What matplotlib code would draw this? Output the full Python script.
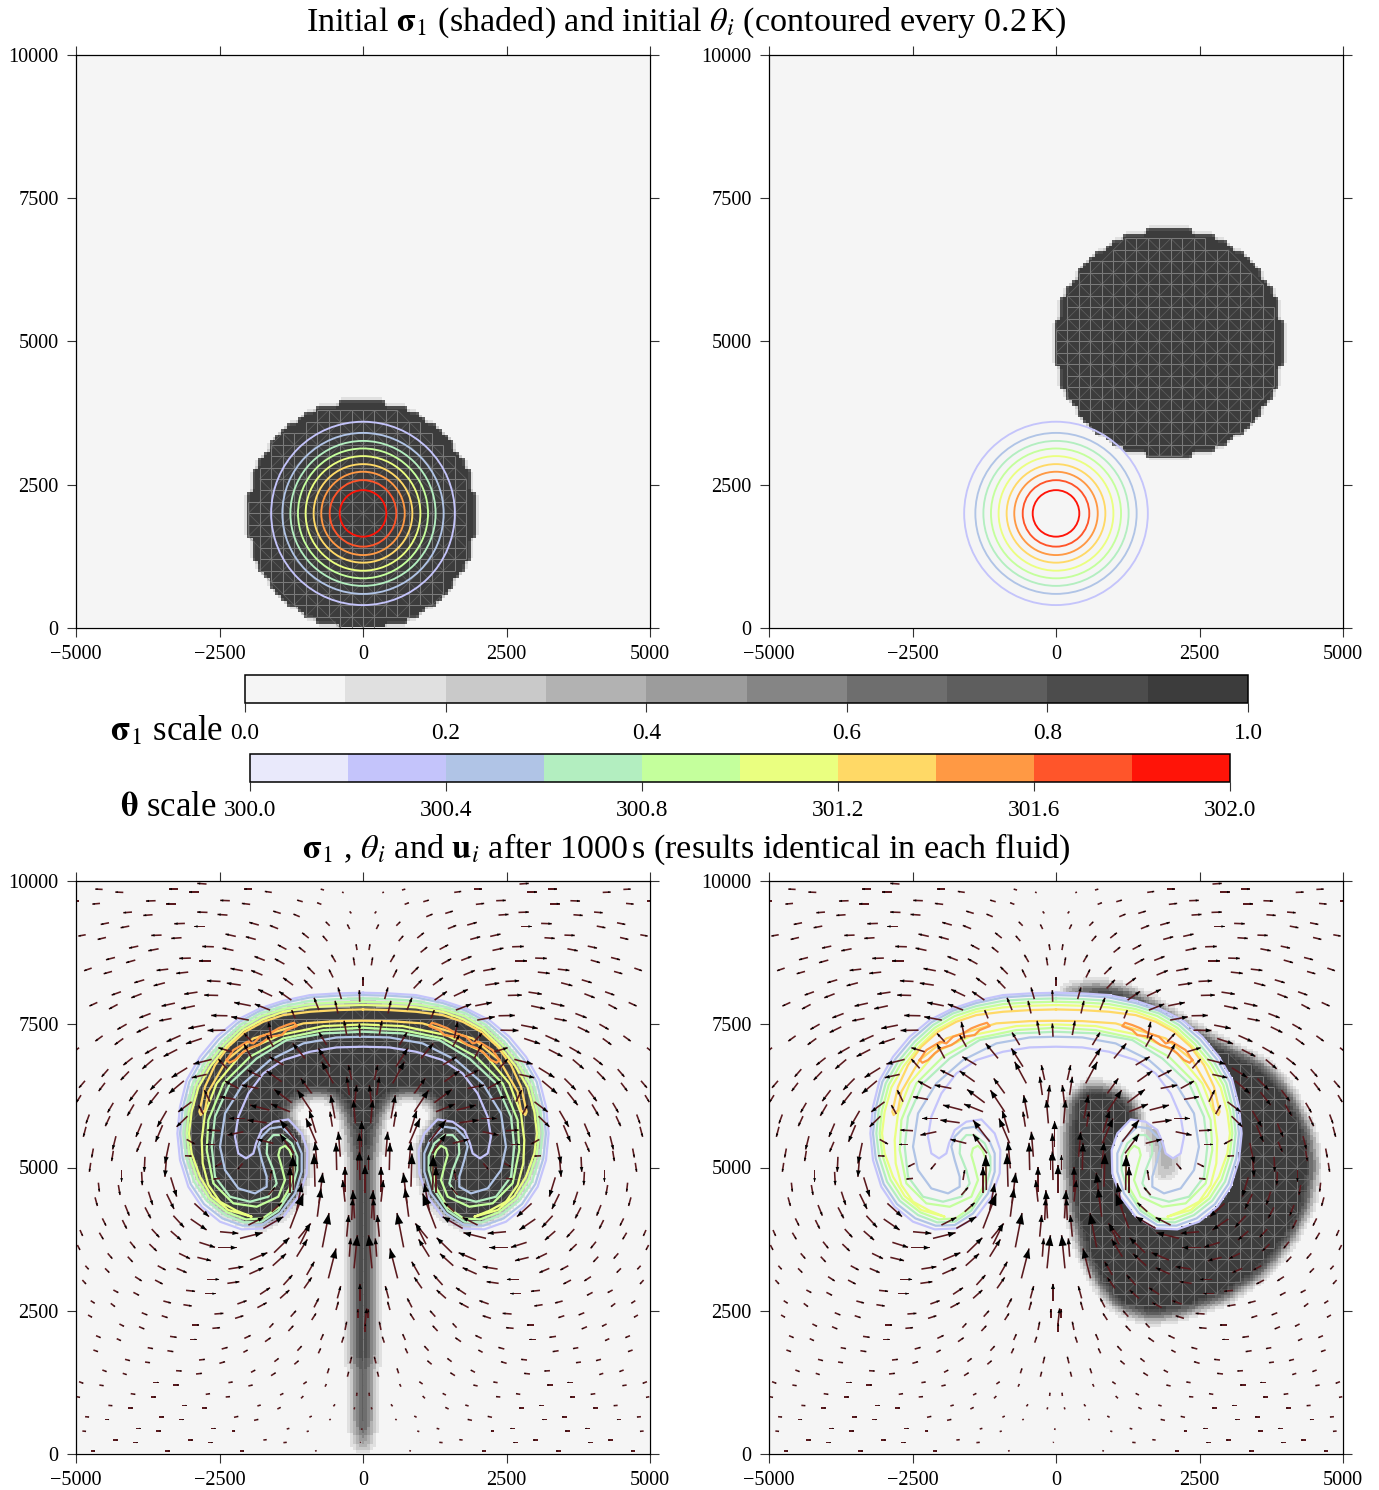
import numpy as np
import matplotlib
matplotlib.use("Agg")
import matplotlib.pyplot as plt
from matplotlib.path import Path
from matplotlib.patches import Circle
from matplotlib.collections import LineCollection, PolyCollection
from matplotlib.colors import ListedColormap, BoundaryNorm
from matplotlib.cm import ScalarMappable

plt.rcParams['font.family'] = ['Liberation Serif', 'DejaVu Serif']
plt.rcParams['mathtext.fontset'] = 'stix'
plt.rcParams['axes.unicode_minus'] = True

W, H = 1379, 1490

sigma_levels = [0.0, 0.1, 0.2, 0.3, 0.4, 0.5, 0.6, 0.7, 0.8, 0.9, 1.0]
sigma_colors = ['#f5f5f5', '#e0e0e0', '#c9c9c9', '#b2b2b2', '#9c9c9c',
                '#858585', '#6e6e6e', '#5e5e5e', '#4c4c4c', '#3c3c3c']
sigma_ticks = [0.0, 0.2, 0.4, 0.6, 0.8, 1.0]
theta_levels = [300.0, 300.2, 300.4, 300.6, 300.8, 301.0, 301.2, 301.4, 301.6, 301.8, 302.0]
theta_colors = ['#e9e9fb', '#c4c4fb', '#b0c4e6', '#b3eec0', '#c4ff9c',
                '#eaff80', '#ffd966', '#ff9944', '#ff552a', '#ff1408']
theta_ticks = [300.0, 300.4, 300.8, 301.2, 301.6, 302.0]
x_ticks = [-5000, -2500, 0, 2500, 5000]
y_ticks = [0, 2500, 5000, 7500, 10000]

disc_left_centre = (0, 2000)
disc_right_centre = (2000, 5000)
disc_radius = 2000
bubble_centre = (0, 2000)
# radius of the initial theta contours, 300.2 K to 301.8 K
bubble_radii = [1600, 1405, 1265, 1133, 1000, 860, 727, 580, 406]

# final theta contours: left half, from the outer arc round to the inner arc (mirrored at x=0)
c302_x = [0,-459,-923,-1388,-1794,-2201,-2549,-2839,-3072,-3188,-3234,-3188,-3043,-2810,-2491,-2113,-1736,-1388,-1126,-981,-970,-1068,-1300,-1562,-1765,-1864,-1910,-2038,-2172,-2230,-2172,-1997,-1736,-1388,-923,-459,0]
c302_y = [8050,8038,8009,7910,7777,7573,7282,6933,6526,6060,5595,5130,4664,4315,4054,3920,3937,4141,4490,4897,5304,5595,5839,5799,5653,5421,5246,5159,5246,5537,5886,6293,6642,6875,7020,7096,7108]
c304_x = [0,-459,-923,-1388,-1794,-2172,-2508,-2799,-3025,-3141,-3188,-3141,-3002,-2770,-2450,-2096,-1765,-1446,-1184,-1068,-1068,-1167,-1417,-1620,-1765,-1823,-1765,-1678,-1678,-1881,-2172,-2404,-2491,-2404,-2084,-1620,-1039,-459,0]
c304_y = [8009,7998,7968,7870,7736,7532,7241,6892,6497,6031,5595,5159,4711,4362,4112,3984,3995,4199,4548,4926,5246,5479,5711,5682,5537,5363,5130,4839,4664,4548,4635,4955,5363,5944,6468,6875,7166,7270,7282]
c306_x = [0,-459,-923,-1388,-1794,-2143,-2462,-2752,-2967,-3089,-3130,-3083,-2944,-2723,-2404,-2073,-1765,-1475,-1242,-1144,-1144,-1242,-1417,-1562,-1666,-1678,-1562,-1504,-1649,-1968,-2317,-2578,-2636,-2578,-2317,-1852,-1330,-691,0]
c306_y = [7951,7939,7910,7817,7689,7486,7195,6846,6468,6002,5595,5188,4752,4420,4170,4042,4054,4246,4606,4955,5188,5421,5566,5566,5450,5246,4955,4723,4490,4403,4490,4839,5363,5886,6468,6904,7224,7340,7369]
c308_x = [0,-459,-923,-1388,-1765,-2113,-2421,-2706,-2915,-3037,-3072,-3025,-2886,-2677,-2363,-2038,-1748,-1475,-1283,-1213,-1225,-1283,-1359,-1446,-1475,-1417,-1359,-1475,-1852,-2259,-2607,-2723,-2694,-2433,-1968,-1388,-691,0]
c308_y = [7893,7881,7852,7765,7643,7439,7154,6805,6439,5973,5595,5217,4792,4461,4217,4094,4112,4304,4635,4955,5159,5304,5380,5333,5217,5013,4781,4490,4315,4374,4723,5304,5828,6468,6933,7253,7398,7439]
c310_x = [0,-459,-923,-1388,-1736,-2085,-2375,-2654,-2868,-2985,-3031,-2985,-2839,-2636,-2346,-1939,-2201,-2491,-2694,-2793,-2810,-2752,-2549,-2085,-1446,-691,0]
c310_y = [7835,7823,7794,7718,7590,7398,7119,6770,6398,5973,5595,5246,4839,4502,4257,4141,4245,4403,4694,5072,5479,5944,6468,7020,7311,7468,7497]
c312_x = [0,-459,-923,-1388,-1736,-2055,-2346,-2578,-2752,-2851,-2828,-2752,-2694,-2375,-1910,-1039,-459,0]
c312_y = [7759,7747,7718,7660,7544,7369,7108,6788,6410,5973,5915,6002,6322,6875,7253,7515,7555,7561]
# 301.4 K closed patch on each side of the cap
c314_x = [-2375,-2259,-2113,-2015,-1910,-1794,-1620,-1475,-1330,-1202,-1155,-1330,-1417,-1620,-1736,-1823,-1997,-2113,-2230,-2328,-2375]
c314_y = [6875,7049,7137,7195,7166,7282,7340,7428,7486,7526,7468,7398,7311,7282,7195,7137,7079,6991,6875,6828,6875]

# outline of the sigma_1 = 1 fluid after 1000 s: left half of the mushroom with its stem
mushroom_x = [0,-459,-923,-1388,-1736,-2085,-2375,-2654,-2868,-2985,-3025,-2985,-2839,-2636,-2346,-2026,-1736,-1417,-1155,-1010,-1010,-1097,-1300,-1359,-1184,-981,-749,-517,-343,-255,-190,-180,-175,-170,-160,-135,-100,-85,0]
mushroom_y = [7806,7794,7765,7689,7573,7387,7108,6759,6380,5973,5595,5246,4839,4502,4228,4071,4025,4199,4548,4926,5275,5566,5828,5973,6148,6264,6293,6235,6031,5711,5200,4500,3800,3000,2000,1000,400,60,60]
# outline of the displaced blob after 1000 s (its inner edge is cut by the 300.2 K contour), and its weakly filled core
blob_x = [100,418,824,1231,1637,2102,2508,3031,3611,4076,4424,4512,4395,4076,3611,2973,2218,1637,1086,737,447,272,185,185,243,505,853,1202,1434,1463,1260,1144,1144,1231,1434,1753,2218,2537,2915,3060,3031,2769,2479,2015,1579,1144,766,418,100]
blob_y = [8080,8150,8190,8096,7910,7602,7369,7108,6817,6322,5653,5013,4315,3705,3152,2716,2454,2367,2541,2948,3530,4199,4955,5653,6177,6410,6410,6264,6002,5711,5566,5362,5101,4723,4344,4170,4094,4228,4635,5188,5770,6439,6788,7195,7515,7747,7875,7980,7980]
core_x = [1521,1898,2131,2131,1898,1724,1753,1579]
core_y = [5886,5799,5421,4955,4781,4839,5130,5421]
core_value = 0.35

# velocity arrows: tail position and arrow vector in axis units, left half (mirrored for x < -90)
arrow_x = [-2726,-4536,-3219,-1926,-679,-4176,-2865,-1589,-336,-4942,-3613,-2320,-1050,-4582,-3265,-1966,-725,-4025,-2709,-1433,-203,-3666,-2361,-1102,
 -4425,-3103,-1815,-580,-4072,-2755,-1479,-232,-4831,-3509,-2216,-945,-4478,-3161,-1868,-621,-3915,-2598,-1334,-104,-3561,-2256,-1003,-4321,-2999,-1711,-476,-3967,-2651,-1369,-145,
 -4727,-3393,-2094,-841,-4373,-3045,-1752,-522,-3811,-2482,-1218,0,-3451,-2129,-882,-4217,-2883,-1583,-377,-3857,-2523,-1247,-58,-4628,-3277,-1955,-766,-4275,-2929,-1618,-435,
 -3700,-2361,-1989,-4118,-3335,-2755,-2395,-3741,-4536,-4176,-4947,-3178,-2807,-3596,-3236,-4014,-3654,-4437,-4077,-3062,-3509,-3120,-4843,-4495,-3927,-3561,-4913,-4350,-3990,-2987,-3057,
 -4768,-4408,-3857,-3422,-4826,-3492,-4304,-4698,-4350,-3869,-3376,-3799,-4744,-4205,-3857,-3422,
 -2288,-2636,-2723,-2375,-1939,-1591,-1184,-1939,-1562,-1010,-633,-284,-52,-1782,-1417,-1823,-1388,-2172,-2665,-2230,-1242,-1632,-1271,-2781,-2055,-1678,-2084,-2491,-2578,-3072,-3101,-2462,-2491,-2096,-1562,-1155,-1202,-894,-517,-488,-238,-197,-133,-23,-836,-807,-458,-314,-1213,-1272,-1620,-1649,-766,-1155,-1271,-1591,-1997,-1736,-2143,-2491,-1126,-314,-52,-197,
 -4610,-4262,-3350,-3739,-4668,-3420,-4146,-3797,-4541,-4192,-3304,-2938,-3002,-3681,-3350,-4930,-4593,-4059,-3722,-2851,-2520,-4976,-4448,-4099,-3205,-2886,-4837,-4494,-3577,-3246,-2345,-1980,-1968,-1573,-1550,-1155,-1097,-708,-796,-603,-284,-156,-981,-1027,-1387,-1445,-1794,-1840,-2189,-2229,-2589,-2624,-2711,-2363,-3083,-2746,-3478,-3129,-4349,-4000,-3971,-3623,-4889,-4744,-4395,-3855,-3507,-4790,-4244,-3902,-2973,-4651,-4291,-3362,-3013,-2067,-1707,-1631,-1300,-1260,-894,-853,-470,-447,-313,-371,-737,-1143,-778,-1544,-1196,-1951,-1602,-2084,-2462,-2857,-2502,-3751,-3408,-4697,-4146,-3797,-4541,-4186,-3257,-2909,-3652,-3304,-4947,-4593,-2345,-1997,-1039,-661,-621,-4047,-3698,-4988,-2740,-2392,-1445,-1080,-4436,-4088,-3147,-2798,-1840,-1492,-516,-4842,-4494,-3548,-3199,-2247,-1898,-934,-586,-4889,-3954,-3606,-2647,-2287,-1329,-981,-4349,-4000,-3054,-2700,-1736,-1387,-4738,-3449,-2142,-836,
 -53,-226,-272,-156,-23,-52,35,35,-238,-148,
 -819,-894,-796,-534,-575,-151,-52,-395,-95,-111,40,-92]
arrow_y = [9947,9853,9859,9859,9842,9801,9807,9801,9795,9656,9656,9656,9638,9609,9603,9592,9592,9458,9452,9434,9434,9411,9405,9376,
 9271,9260,9231,9219,9213,9207,9167,9161,9062,9056,9033,9004,9015,9010,8980,8951,8864,8852,8806,8794,8817,8788,8754,8666,8655,8614,8585,8620,8608,8550,8527,
 8480,8462,8433,8375,8422,8410,8358,8317,8276,8247,8183,8166,8224,8183,8125,8067,8061,7991,7939,8032,8003,7921,7892,7881,7869,7822,7747,7846,7822,7747,7688,
 7688,7648,7572,7502,7601,7485,7397,7455,7298,7252,7091,7305,7252,7101,7060,6915,6885,6716,6676,6740,6553,6513,6513,6478,6350,6315,6263,6129,6100,6146,5896,
 5925,5896,5768,5989,5710,5739,5547,5331,5291,5448,5430,5186,5081,4953,4924,5186,
 7020,6887,6625,6730,7195,7253,7602,6904,7108,6904,7137,7311,7282,6584,6497,6380,6788,6380,6148,6189,6130,6002,5973,5933,5857,5781,5624,5642,5403,5490,5205,5072,4810,5072,5421,5450,5246,5973,6468,5857,6264,6526,5770,5362,4664,5421,4955,4577,4606,4548,4781,4519,4374,4257,3937,4228,3995,3937,3763,3879,3763,4403,4781,4083,
 4735,4694,4828,4578,4479,4537,4345,4304,4112,4083,4159,4374,4101,3926,3891,3909,3862,3705,3664,3694,3601,3647,3502,3444,3502,3432,3286,3240,3286,3240,3228,3141,3385,3286,3513,3444,3659,3606,4141,3065,3793,3240,3124,2891,2949,2716,2786,2554,2618,2367,2443,2193,3048,2978,2856,2798,2670,2606,2862,2821,3095,3036,3036,2676,2629,2466,2414,2426,2269,2222,2251,2065,2013,2053,2001,2018,1960,2205,2146,2397,2338,2559,2513,2716,2164,1943,1989,1803,1757,1611,1565,1425,1367,1774,1832,1640,1582,1856,1803,1815,1652,1605,1466,1408,1454,1396,1251,1204,1262,1204,1245,1187,1221,1175,1408,1053,995,1000,1041,995,1029,971,849,803,849,803,838,785,832,651,599,651,599,640,587,640,593,401,448,401,448,401,436,390,244,198,244,198,244,198,52,52,52,52,
 2675,1582,1349,779,419,198,2280,4549,3443,4112,
 5607,6293,4984,5712,6759,6090,5188,5188,4955,1012,2134,2367]
arrow_u = [-162,-128,-162,-145,-58,-139,-168,-122,-29,-64,-168,-168,-99,-133,-162,-145,-75,-151,-180,-133,-29,-162,-174,-110,
 -145,-186,-168,-70,-151,-186,-145,-41,-128,-180,-180,-116,-145,-180,-174,-81,-162,-203,-151,-17,-180,-191,-116,-157,-203,-180,-75,-162,-203,-168,-23,
 -133,-203,-215,-128,-145,-209,-197,-70,-174,-238,-174,0,-197,-244,-145,-162,-232,-244,-58,-180,-244,-215,-6,-139,-232,-290,-87,-151,-238,-267,-52,
 -197,-284,-307,-162,-215,-290,-313,-203,-128,-151,-58,-244,-278,-203,-238,-162,-191,-116,-145,-273,-197,-261,-104,-110,-145,-180,-75,-99,-116,-232,-191,
 -58,-81,-99,-162,-46,-122,-58,-29,-29,-75,-75,-12,-23,0,12,-29,
 -232,-319,-261,-145,-133,-58,-58,-133,-116,-215,-133,-46,-12,-232,-261,-290,-244,-232,-99,-261,-307,-336,-331,-87,-278,-336,-278,-220,-157,145,116,-116,-116,-87,-278,-290,-244,-249,-203,-75,-46,-58,-35,0,-17,-186,-12,0,-12,0,29,116,64,87,232,174,261,348,394,319,215,-41,-12,17,
 17,29,104,75,41,128,75,99,64,75,186,255,278,133,180,46,70,93,128,273,319,46,81,87,191,238,58,75,139,174,261,244,302,232,267,186,174,116,64,133,35,58,133,133,157,162,174,162,162,145,157,133,209,209,157,180,133,145,87,99,116,133,64,70,75,99,104,70,81,93,122,81,75,116,116,110,99,70,87,93,75,81,41,58,29,35,46,75,41,75,75,75,81,75,104,104,99,93,104,81,87,87,75,70,99,104,93,93,75,75,75,75,58,23,29,81,87,58,75,75,58,41,70,75,81,75,58,58,29,70,75,81,81,75,75,41,23,64,87,87,81,64,46,35,75,81,87,81,58,58,70,87,70,29,
 0,29,23,12,6,12,29,0,23,-29,
 -116,-191,-41,-41,-203,41,-12,-35,0,6,0,0]
arrow_v = [12,6,0,0,17,6,0,17,12,0,-6,6,29,-12,0,17,29,-12,6,41,35,-12,12,47,
 -29,-6,47,70,-29,0,58,81,-23,-6,41,93,-35,-12,47,93,-35,6,81,104,-35,41,93,-41,-6,70,128,-46,0,93,140,
 -46,-23,41,128,-41,-23,81,140,-52,12,128,163,-52,35,151,-58,-35,116,204,-70,6,151,204,-64,-52,58,215,-81,-52,105,221,
 -76,6,58,-93,-41,-58,-6,-99,-93,-110,-47,-110,-93,-116,-122,-128,-163,-133,-151,-169,-198,-221,-122,-145,-192,-227,-122,-169,-198,-175,-186,
 -157,-175,-233,-279,-175,-291,-233,-157,-180,-175,-361,-262,-157,-204,-233,-349,
 70,-81,-58,163,145,290,145,250,203,261,220,250,232,116,186,58,145,128,203,46,232,87,133,157,0,46,-58,12,0,-81,-6,-58,-12,-105,70,377,336,377,377,406,320,262,407,454,581,435,476,436,611,465,174,133,534,465,610,157,133,203,99,-29,261,378,500,378,
 -157,-174,-336,-232,-151,-261,-186,-191,-128,-151,-203,-232,-191,-145,-157,-104,-116,-116,-122,-87,0,-87,-93,-93,-93,-58,-64,-75,-75,-75,41,110,128,209,261,302,354,600,494,522,378,580,232,191,174,145,116,87,58,46,12,12,0,29,-17,0,-35,-23,-46,-52,-75,-70,-70,-46,-58,-41,-35,-41,-41,-41,0,-35,-35,-17,0,52,70,75,93,104,116,157,145,215,145,104,104,81,87,58,64,41,52,41,29,12,29,-17,-17,-29,-23,-12,-29,-23,-6,12,0,0,-29,-12,12,17,41,46,87,-12,0,-12,12,6,29,41,-6,0,0,0,17,29,35,-6,0,0,0,17,17,23,17,-6,0,0,0,0,12,12,0,0,0,0,6,6,0,0,0,6,
 300,116,87,35,29,12,262,494,320,494,
 384,262,465,262,320,349,407,436,262,58,145,157]

assert len(arrow_x) == len(arrow_y) == len(arrow_u) == len(arrow_v), (len(arrow_x), len(arrow_y), len(arrow_u), len(arrow_v))

grey_cmap = ListedColormap(sigma_colors)
grey_norm = BoundaryNorm(sigma_levels, grey_cmap.N)
theta_cmap = ListedColormap(theta_colors)
theta_norm = BoundaryNorm(theta_levels, theta_cmap.N)

xe = np.arange(-4975, 4976, 50.0)
ye = np.arange(25, 9976, 50.0)
xc = 0.5 * (xe[1:] + xe[:-1])
yc = 0.5 * (ye[1:] + ye[:-1])
XC, YC = np.meshgrid(xc, yc)


def blur(field, width):
    half = int(3 * width / 50)
    kx = np.arange(-half, half + 1) * 50.0
    kernel = np.exp(-0.5 * (kx / width) ** 2)
    kernel /= kernel.sum()
    pad = np.pad(field, half, mode='edge')
    out = np.apply_along_axis(lambda r: np.convolve(r, kernel, mode='same'), 0, pad)
    out = np.apply_along_axis(lambda r: np.convolve(r, kernel, mode='same'), 1, out)
    return out[half:-half, half:-half]


def disc_field(centre):
    # the initial disc is resolved on 100 m cells
    cx = (np.floor((XC + 5000) / 100) + 0.5) * 100 - 5000
    cy = (np.floor(YC / 100) + 0.5) * 100
    mask = (cx - centre[0]) ** 2 + (cy - centre[1]) ** 2 <= disc_radius ** 2
    return blur(mask.astype(float), 25)


def poly_mask(px, py):
    pts = np.column_stack([XC.ravel(), YC.ravel()])
    return Path(np.column_stack([px, py])).contains_points(pts).reshape(XC.shape)


def full(xs, ys):
    xs, ys = np.asarray(xs, float), np.asarray(ys, float)
    return np.r_[xs, -xs[::-1][1:]], np.r_[ys, ys[::-1][1:]]


def mesh_lines(field):
    step = 200.0
    nodes_x = np.arange(-5000, 5001, step)
    nodes_y = np.arange(0, 10001, step)
    segs, diag = [], []
    for i, x in enumerate(nodes_x):
        for j, y in enumerate(nodes_y):
            if i < len(nodes_x) - 1:
                segs.append(((x, y), (x + step, y)))
            if j < len(nodes_y) - 1:
                segs.append(((x, y), (x, y + step)))
            if i < len(nodes_x) - 1 and j < len(nodes_y) - 1:
                if (i + j) % 2:
                    diag.append(((x, y), (x + step, y + step)))
                else:
                    diag.append(((x + step, y), (x, y + step)))

    def sample(pts):
        ix = np.clip(((pts[:, 0] - xc[0]) / 50).round().astype(int), 0, len(xc) - 1)
        iy = np.clip(((pts[:, 1] - yc[0]) / 50).round().astype(int), 0, len(yc) - 1)
        return field[iy, ix]

    def colours(ss, alpha):
        ss = np.asarray(ss)
        low = np.minimum.reduce([sample(ss[:, 0]), sample(ss[:, 1]), sample(ss.mean(axis=1))])
        a = np.clip((low - 0.45) / 0.4, 0, 1) * alpha
        c = np.zeros((len(ss), 4))
        c[:, :3] = 0.48
        c[:, 3] = a
        return c
    return (LineCollection(segs, colors=colours(segs, 1.0), linewidths=0.75, zorder=1.5),
            LineCollection(diag, colors=colours(diag, 0.55), linewidths=0.55, zorder=1.5))


def style_axes(ax):
    ax.set_xlim(-5000, 5000)
    ax.set_ylim(0, 10000)
    ax.set_xticks(x_ticks)
    ax.set_yticks(y_ticks)
    ax.tick_params(direction='out', length=6.5, width=0.8, top=True, right=True,
                   labelsize=14.6, pad=6, color='#333333')
    for s in ax.spines.values():
        s.set_linewidth(0.9)
        s.set_zorder(6)


def new_axes(x0, y0, x1, y1):
    return fig.add_axes([x0 / W, 1 - y1 / H, (x1 - x0) / W, (y1 - y0) / H])


def put_text(px, py, s, size):
    fig.text(px / W, 1 - py / H, s, ha='center', va='center', fontsize=size)


def draw_field(ax, field):
    ax.pcolormesh(xe, ye, field, cmap=grey_cmap, norm=grey_norm, zorder=1)
    a, b = mesh_lines(field)
    ax.add_collection(a)
    ax.add_collection(b)


def draw_final_contours(ax):
    for (cx, cy), col in zip([(c302_x, c302_y), (c304_x, c304_y), (c306_x, c306_y),
                              (c308_x, c308_y), (c310_x, c310_y), (c312_x, c312_y)], theta_colors[1:7]):
        fx, fy = full(cx, cy)
        ax.plot(fx, fy, color=col, lw=1.6, zorder=2, solid_joinstyle='round')
    ox, oy = np.asarray(c314_x, float), np.asarray(c314_y, float)
    ax.plot(ox, oy, color=theta_colors[7], lw=1.6, zorder=2)
    ax.plot(-ox, oy, color=theta_colors[7], lw=1.6, zorder=2)


def draw_arrows(ax):
    x = np.asarray(arrow_x, float)
    y = np.asarray(arrow_y, float)
    u = np.asarray(arrow_u, float)
    v = np.asarray(arrow_v, float)
    m = x < -90
    X = np.r_[x, -x[m]]
    Y = np.r_[y, y[m]]
    U = np.r_[u, -u[m]]
    V = np.r_[v, v[m]]
    ax.quiver(X, Y, U, V, angles='xy', scale_units='xy', scale=1, color='#5a1a1e',
              width=0.0028, headwidth=1, headlength=0, headaxislength=0, minlength=0,
              pivot='tail', zorder=3)
    tipx, tipy = X + U, Y + V
    polys = []
    for tx, ty, du, dv in zip(tipx, tipy, U, V):
        bx, by = tx - 0.32 * du, ty - 0.32 * dv
        polys.append([(tx, ty), (bx - 0.12 * dv, by + 0.12 * du), (bx + 0.12 * dv, by - 0.12 * du)])
    ax.add_collection(PolyCollection(polys, facecolors='black', edgecolors='none', zorder=4))


fig = plt.figure(figsize=(W / 100, H / 100), dpi=100)

# initial state
for (x0, x1), centre in zip([(76, 650), (769, 1343)], [disc_left_centre, disc_right_centre]):
    ax = new_axes(x0, 55, x1, 628)
    draw_field(ax, disc_field(centre))
    for r, col in zip(bubble_radii, theta_colors[1:]):
        ax.add_patch(Circle(bubble_centre, r, fill=False, edgecolor=col, lw=1.35, zorder=2))
    style_axes(ax)

# colour scales
cax1 = new_axes(245, 675, 1248, 703)
cb1 = fig.colorbar(ScalarMappable(norm=grey_norm, cmap=grey_cmap), cax=cax1,
                   orientation='horizontal', ticks=sigma_ticks, spacing='proportional')
cb1.ax.set_xticklabels([f'{t:.1f}' for t in sigma_ticks])
cax2 = new_axes(250, 754, 1230, 782)
cb2 = fig.colorbar(ScalarMappable(norm=theta_norm, cmap=theta_cmap), cax=cax2,
                   orientation='horizontal', ticks=theta_ticks, spacing='proportional')
cb2.ax.set_xticklabels([f'{t:.1f}' for t in theta_ticks])
for cb, lab_pad in ((cb1, 8), (cb2, 6.5)):
    cb.ax.tick_params(length=6.5, width=0.8, labelsize=16.8, pad=lab_pad, color='#333333')
    cb.ax.minorticks_off()
    cb.outline.set_linewidth(1.1)

# state after 1000 s
inside_302 = poly_mask(*full(c302_x, c302_y))
mush_mask = poly_mask(*full(mushroom_x, mushroom_y))
left_field = np.maximum(blur(mush_mask.astype(float), 120),
                        blur((mush_mask & inside_302).astype(float), 30))
core_field = blur(core_value * poly_mask(core_x, core_y).astype(float), 100)
right_field = np.where(inside_302, core_field, blur(poly_mask(blob_x, blob_y).astype(float), 110))
for (x0, x1), field in zip([(76, 650), (769, 1343)], [left_field, right_field]):
    ax = new_axes(x0, 881, x1, 1454)
    draw_field(ax, field)
    draw_final_contours(ax)
    draw_arrows(ax)
    style_axes(ax)

put_text(686, 23, r'Initial $\mathbf{\sigma}_1$ (shaded) and initial $\theta_i$ (contoured every 0.2$\,$K)', 24.6)
put_text(686, 849, r'$\mathbf{\sigma}_1$ , $\theta_i$ and $\mathbf{u}_i$ after 1000$\,$s (results identical in each fluid)', 24.6)
put_text(167, 731, r'$\mathbf{\sigma}_1$ scale', 25)
put_text(168, 807, r'$\mathbf{\theta}$ scale', 25)

fig.savefig('out.png', dpi=100)
